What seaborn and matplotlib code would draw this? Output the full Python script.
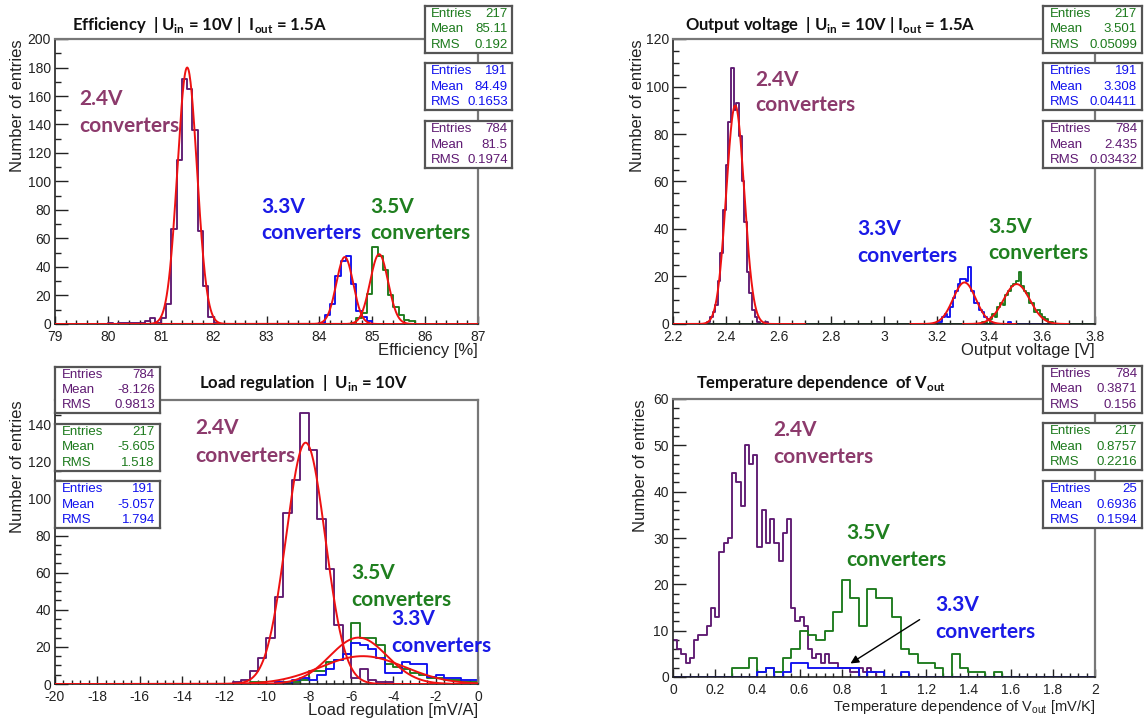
import numpy as np
import pandas as pd
import matplotlib
matplotlib.use("Agg")
import matplotlib.pyplot as plt
import seaborn as sns
from matplotlib.ticker import MultipleLocator, FuncFormatter

# ---------------- data ----------------
# Efficiency [%] : bins of 0.1 between 79 and 87
eff_range = (79.0, 87.0, 0.1)
eff_24_start = 80.0
eff_24_counts = [1, 0, 1, 1, 1, 1, 1, 2, 4, 1, 4, 14, 67, 115, 172, 165, 136, 65, 27, 5, 1]
eff_33_start = 84.0
eff_33_counts = [1, 6, 14, 34, 44, 48, 28, 9, 5, 2]
eff_35_start = 84.6
eff_35_counts = [1, 4, 8, 21, 54, 48, 38, 20, 12, 6, 3, 2]
eff_fits = [(180, 81.50, 0.185, 79.0, 87.0), (47, 84.48, 0.16, 79.0, 87.0), (49, 85.13, 0.17, 79.0, 87.0)]

# Output voltage [V] : bins of 0.01 between 2.2 and 3.8
vout_range = (2.2, 3.8, 0.01)
vout_24_start = 2.33
vout_24_counts = [1, 3, 5, 8, 18, 30, 48, 67, 85, 108, 90, 93, 79, 60, 43, 22, 13, 6, 3, 1, 0, 0, 1]
vout_33_start = 3.20
vout_33_counts = [1, 1, 3, 4, 3, 7, 11, 14, 17, 19, 19, 18, 24, 14, 9, 9, 6, 5, 3, 2, 1, 0, 0, 0, 0, 0, 0, 1]
vout_35_start = 3.37
vout_35_counts = [1, 1, 0, 2, 4, 3, 7, 9, 8, 12, 14, 16, 17, 18, 22, 16, 14, 13, 9, 9, 5, 6, 4, 3, 2, 1, 1]
vout_fits = [(92, 2.436, 0.034, 2.2, 2.7), (17.5, 3.305, 0.043, 3.1, 3.5), (16.8, 3.503, 0.05, 3.3, 3.7)]

# Load regulation [mV/A] : bins of 0.4 between -20 and 0
load_range = (-20.0, 0.0, 0.4)
load_24_start = -11.6
load_24_counts = [1, 2, 7, 14, 25, 47, 92, 110, 146, 126, 89, 62, 32, 16, 3, 8, 2, 1, 1]
load_35_start = -10.8
load_35_counts = [1, 1, 0, 1, 1, 1, 2, 7, 7, 12, 13, 16, 33, 25, 25, 21, 11, 9, 8, 6, 5, 3, 3, 2, 2, 1, 1]
load_33_start = -9.6
load_33_counts = [1, 0, 2, 3, 2, 5, 8, 13, 16, 22, 21, 19, 14, 6, 6, 12, 11, 11, 4, 5, 3, 3, 2, 2]
load_fits = [(130, -8.15, 0.93, -20.0, 0.0), (25, -5.65, 1.35, -20.0, 0.0), (15, -5.45, 2.0, -20.0, 0.0)]

# Temperature dependence of Vout [mV/K]
temp_24_range = (0.0, 2.0, 0.02)
temp_24_start = 0.0
temp_24_counts = [8, 6, 5, 3, 4, 8, 9, 9, 11, 15, 13, 27, 29, 30, 44, 42, 37, 50, 46, 48,
                  28, 36, 29, 34, 29, 25, 31, 34, 15, 12, 13, 11, 6, 4, 5, 3, 5, 3, 3, 2,
                  2, 2, 1, 1, 2, 1, 2, 1]
temp_wide_range = (0.0, 2.0, 0.04)
temp_35_start = 0.28
temp_35_counts = [2, 2, 4, 1, 2, 1, 4, 6, 10, 9, 8, 10, 14, 21, 17, 11, 19, 17, 17, 13,
                  6, 5, 3, 3, 2, 0, 5, 2, 1, 1, 0, 1]
temp_33_start = 0.40
temp_33_counts = [1, 2, 0, 1, 3, 3, 2, 2, 2, 2, 2, 2, 0, 1, 1, 0, 0, 1]

# stats boxes (Entries, Mean, RMS)
eff_stats = {"35": ("217", "85.11", "0.192"), "33": ("191", "84.49", "0.1653"), "24": ("784", "81.5", "0.1974")}
vout_stats = {"35": ("217", "3.501", "0.05099"), "33": ("191", "3.308", "0.04411"), "24": ("784", "2.435", "0.03432")}
load_stats = {"24": ("784", "-8.126", "0.9813"), "35": ("217", "-5.605", "1.518"), "33": ("191", "-5.057", "1.794")}
temp_stats = {"24": ("784", "0.3871", "0.156"), "35": ("217", "0.8757", "0.2216"), "33": ("25", "0.6936", "0.1594")}

# ---------------- style ----------------
C24 = "#5f1a72"
C33 = "#1010ee"
C35 = "#1c7a1c"
T24 = "#8c3a6c"
T33 = "#1a1ae6"
T35 = "#1f7f1f"
RED = "#ee1111"

plt.rcParams["font.family"] = ["Liberation Sans", "DejaVu Sans"]
plt.rcParams["mathtext.fontset"] = "dejavusans"

W, H = 1146, 720
fig = plt.figure(figsize=(W / 100, H / 100), dpi=100)


def px_axes(l, t, r, b):
    return fig.add_axes([l / W, 1 - b / H, (r - l) / W, (b - t) / H])


def full_hist(rng, start, counts):
    lo, hi, bw = rng
    n = int(round((hi - lo) / bw))
    edges = np.linspace(lo, hi, n + 1)
    full = np.zeros(n)
    i0 = int(round((start - lo) / bw))
    full[i0:i0 + len(counts)] = counts
    centers = 0.5 * (edges[:-1] + edges[1:])
    return centers, full, edges


def draw_hist(ax, rng, start, counts, color):
    c, w, e = full_hist(rng, start, counts)
    df = pd.DataFrame({"value": c, "count": w})
    sns.histplot(data=df, x="value", weights="count", bins=[float(v) for v in e],
                 element="step", fill=False, color=color, linewidth=1.35, ax=ax)


def draw_fit(ax, amp, mu, sig, lo, hi):
    xs = np.linspace(lo, hi, 800)
    ax.plot(xs, amp * np.exp(-0.5 * ((xs - mu) / sig) ** 2), color=RED, lw=1.4, zorder=5)


def style_axes(ax, xlim, ylim, xmaj, xmin, ymaj, ymin, xlabel, ylabel_x, xlabel_y, xl_size=12):
    ax.set_xlim(*xlim)
    ax.set_ylim(*ylim)
    ax.xaxis.set_major_locator(MultipleLocator(xmaj))
    ax.xaxis.set_minor_locator(MultipleLocator(xmin))
    ax.yaxis.set_major_locator(MultipleLocator(ymaj))
    ax.yaxis.set_minor_locator(MultipleLocator(ymin))
    fmt = FuncFormatter(lambda v, p: f"{v:g}" if abs(v) > 1e-9 else "0")
    ax.xaxis.set_major_formatter(fmt)
    ax.yaxis.set_major_formatter(fmt)
    ax.tick_params(axis="both", which="both", direction="in", top=False, right=False,
                   labelsize=10, colors="#222222", width=1.0)
    ax.tick_params(axis="x", which="major", length=6, pad=4.6)
    ax.tick_params(axis="x", which="minor", length=3)
    ax.tick_params(axis="y", which="major", length=9, pad=3)
    ax.tick_params(axis="y", which="minor", length=4.5)
    for s in ["left", "bottom"]:
        ax.spines[s].set_color("#222222")
        ax.spines[s].set_linewidth(1.2)
    for s in ["top", "right"]:
        ax.spines[s].set_color("#777777")
        ax.spines[s].set_linewidth(1.6)
    ax.set_xlabel(xlabel, fontsize=xl_size, loc="right", color="#222222")
    ax.set_ylabel("Number of entries", fontsize=12, loc="top", color="#222222")
    ax.yaxis.set_label_coords(ylabel_x, 1.0)
    ax.xaxis.set_label_coords(1.0, xlabel_y)
    ax.set_facecolor("white")


def stats_box(l, t, r, b, vals, color):
    bax = px_axes(l, t, r, b)
    bax.set_xticks([])
    bax.set_yticks([])
    for s in bax.spines.values():
        s.set_color("#555555")
        s.set_linewidth(1.6)
    for i, (k, v) in enumerate(zip(["Entries", "Mean", "RMS"], vals)):
        yy = 0.82 - i * 0.32
        bax.text(0.07, yy, k, color=color, fontsize=9.5, va="center", ha="left", transform=bax.transAxes)
        bax.text(0.95, yy, v, color=color, fontsize=9.5, va="center", ha="right", transform=bax.transAxes)


def label(ax, x, y1, y2, volt, color, fs=15):
    kw = dict(fontfamily="Lato", fontweight="bold", fontsize=fs, color=color,
              ha="left", va="center", clip_on=False, zorder=6)
    ax.text(x, y1, volt, **kw)
    ax.text(x, y2, "converters", **kw)


def title(x, y, s):
    fig.text(x / W, 1 - y / H, s, fontfamily="Lato", fontweight="bold", fontsize=12,
             ha="left", va="center", color="#111111")


# ---------------- panel 1: efficiency ----------------
ax1 = px_axes(55, 39, 478, 324)
draw_hist(ax1, eff_range, eff_24_start, eff_24_counts, C24)
draw_hist(ax1, eff_range, eff_33_start, eff_33_counts, C33)
draw_hist(ax1, eff_range, eff_35_start, eff_35_counts, C35)
for f in eff_fits:
    draw_fit(ax1, *f)
style_axes(ax1, (79, 87), (0, 200), 1, 0.2, 20, 10, "Efficiency [%]", -0.07, -0.068)
label(ax1, 79.45, 158, 139, "2.4V", T24)
label(ax1, 82.9, 82, 64, "3.3V", T33)
label(ax1, 84.97, 82, 64, "3.5V", T35)
title(72, 25, r"Efficiency  | U$_{\mathregular{in}}$ = 10V |  I$_{\mathregular{out}}$ = 1.5A")
stats_box(425, 6, 512, 53, eff_stats["35"], C35)
stats_box(425, 63, 512, 110, eff_stats["33"], C33)
stats_box(425, 121, 512, 168, eff_stats["24"], C24)

# ---------------- panel 2: output voltage ----------------
ax2 = px_axes(673, 39, 1095, 324)
draw_hist(ax2, vout_range, vout_24_start, vout_24_counts, C24)
draw_hist(ax2, vout_range, vout_33_start, vout_33_counts, C33)
draw_hist(ax2, vout_range, vout_35_start, vout_35_counts, C35)
for f in vout_fits:
    draw_fit(ax2, *f)
style_axes(ax2, (2.2, 3.8), (0, 120), 0.2, 0.05, 20, 5, "Output voltage [V]", -0.066, -0.068)
label(ax2, 2.51, 102.7, 92.2, "2.4V", T24)
label(ax2, 2.898, 40, 28.6, "3.3V", T33)
label(ax2, 3.394, 41, 29.8, "3.5V", T35)
title(685, 25, r"Output voltage  | U$_{\mathregular{in}}$ = 10V | I$_{\mathregular{out}}$ = 1.5A")
stats_box(1043, 6, 1142, 53, vout_stats["35"], C35)
stats_box(1043, 63, 1142, 110, vout_stats["33"], C33)
stats_box(1043, 121, 1142, 168, vout_stats["24"], C24)

# ---------------- panel 3: load regulation ----------------
ax3 = px_axes(55, 400, 478, 684)
draw_hist(ax3, load_range, load_24_start, load_24_counts, C24)
draw_hist(ax3, load_range, load_35_start, load_35_counts, C35)
draw_hist(ax3, load_range, load_33_start, load_33_counts, C33)
for f in load_fits:
    draw_fit(ax3, *f)
style_axes(ax3, (-20, 0), (0, 153), 2, 0.4, 20, 5, "Load regulation [mV/A]", -0.07, -0.066)
label(ax3, -13.38, 138, 123, "2.4V", T24)
label(ax3, -5.97, 60, 45.3, "3.5V", T35)
label(ax3, -4.08, 35, 20.6, "3.3V", T33)
title(199, 383, r"Load regulation  |  U$_{\mathregular{in}}$ = 10V")
stats_box(55, 367, 160, 413, load_stats["24"], C24)
stats_box(55, 424, 160, 471, load_stats["35"], C35)
stats_box(55, 481, 160, 528, load_stats["33"], C33)

# ---------------- panel 4: temperature dependence ----------------
ax4 = px_axes(673, 399, 1095, 677)
draw_hist(ax4, temp_24_range, temp_24_start, temp_24_counts, C24)
draw_hist(ax4, temp_wide_range, temp_35_start, temp_35_counts, C35)
draw_hist(ax4, temp_wide_range, temp_33_start, temp_33_counts, C33)
style_axes(ax4, (0, 2), (0, 60), 0.2, 0.04, 10, 2,
           r"Temperature dependence of V$_{\mathregular{out}}$ [mV/K]", -0.06, -0.074, xl_size=10.5)
label(ax4, 0.474, 53.3, 47.5, "2.4V", T24)
label(ax4, 0.82, 31, 25.3, "3.5V", T35)
label(ax4, 1.244, 15.5, 9.8, "3.3V", T33)
ax4.annotate("", xy=(0.83, 2.6), xytext=(1.18, 12.7),
             arrowprops=dict(arrowstyle="-|>", color="black", lw=1.0, mutation_scale=12), zorder=7)
title(696, 383, r"Temperature dependence  of V$_{\mathregular{out}}$")
stats_box(1043, 366, 1142, 413, temp_stats["24"], C24)
stats_box(1043, 423, 1142, 470, temp_stats["35"], C35)
stats_box(1043, 481, 1142, 528, temp_stats["33"], C33)

fig.savefig("out.png", dpi=100, facecolor="white")
